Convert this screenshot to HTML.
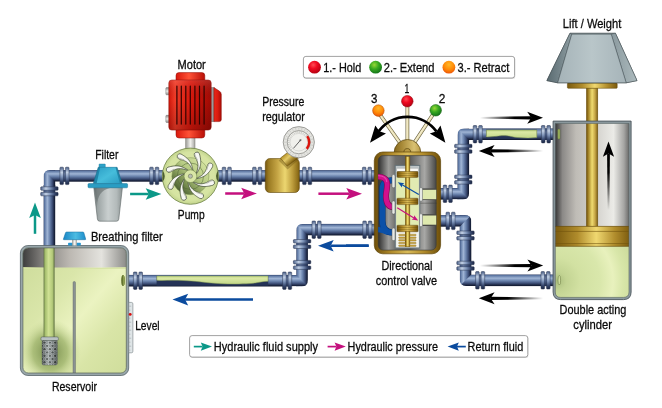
<!DOCTYPE html>
<html><head><meta charset="utf-8"><title>Hydraulic system</title>
<style>
html,body{margin:0;padding:0;background:#fff;}
svg{display:block;}
text{font-family:"Liberation Sans",sans-serif;fill:#0a0a0a;stroke:#0a0a0a;stroke-width:0.3px;}
</style></head>
<body>
<svg width="662" height="408" viewBox="0 0 662 408">
<defs>

<linearGradient id="pH" x1="0" y1="0" x2="0" y2="1">
 <stop offset="0" stop-color="#2c3b62"/><stop offset="0.08" stop-color="#5b75a1"/><stop offset="0.32" stop-color="#a0b5d5"/>
 <stop offset="0.54" stop-color="#6a83ad"/><stop offset="0.76" stop-color="#3b4c74"/><stop offset="0.91" stop-color="#1b2540"/><stop offset="1" stop-color="#10172c"/>
</linearGradient>
<linearGradient id="pV" x1="0" y1="0" x2="1" y2="0">
 <stop offset="0" stop-color="#2c3b62"/><stop offset="0.08" stop-color="#5b75a1"/><stop offset="0.32" stop-color="#a0b5d5"/>
 <stop offset="0.54" stop-color="#6a83ad"/><stop offset="0.76" stop-color="#3b4c74"/><stop offset="0.91" stop-color="#1b2540"/><stop offset="1" stop-color="#10172c"/>
</linearGradient>
<linearGradient id="fH" x1="0" y1="0" x2="0" y2="1">
 <stop offset="0" stop-color="#4b6088"/><stop offset="0.3" stop-color="#c2d0e4"/><stop offset="0.55" stop-color="#7f95ba"/><stop offset="0.8" stop-color="#36476d"/><stop offset="1" stop-color="#1c2744"/>
</linearGradient>
<linearGradient id="fV" x1="0" y1="0" x2="1" y2="0">
 <stop offset="0" stop-color="#4b6088"/><stop offset="0.3" stop-color="#c2d0e4"/><stop offset="0.55" stop-color="#7f95ba"/><stop offset="0.8" stop-color="#36476d"/><stop offset="1" stop-color="#1c2744"/>
</linearGradient>
<clipPath id="ec1"><path d="M50.1,170.1 H61.2 V187.7 H43.6 V176.6 Q43.6,170.1 50.1,170.1Z"/></clipPath><clipPath id="ec1h"><polygon points="43.6,170.1 61.2,170.1 61.2,181.7 55.2,181.7"/></clipPath><clipPath id="ec2"><path d="M302.8,223.9 H313.90000000000003 V241.5 H296.3 V230.4 Q296.3,223.9 302.8,223.9Z"/></clipPath><clipPath id="ec2h"><polygon points="296.3,223.9 313.90000000000003,223.9 313.90000000000003,235.5 307.90000000000003,235.5"/></clipPath><clipPath id="ec3"><path d="M301.4,286.5 H290.29999999999995 V268.9 H307.9 V280.0 Q307.9,286.5 301.4,286.5Z"/></clipPath><clipPath id="ec3h"><polygon points="307.9,286.5 290.29999999999995,286.5 290.29999999999995,274.9 296.29999999999995,274.9"/></clipPath><clipPath id="ec4"><path d="M462.6,199.6 H451.5 V182.0 H469.1 V193.1 Q469.1,199.6 462.6,199.6Z"/></clipPath><clipPath id="ec4h"><polygon points="469.1,199.6 451.5,199.6 451.5,188.0 457.5,188.0"/></clipPath><clipPath id="ec5"><path d="M464.0,128.4 H475.1 V146.0 H457.5 V134.9 Q457.5,128.4 464.0,128.4Z"/></clipPath><clipPath id="ec5h"><polygon points="457.5,128.4 475.1,128.4 475.1,140.0 469.1,140.0"/></clipPath><clipPath id="ec6"><path d="M464.8,215.1 H453.7 V232.7 H471.3 V221.6 Q471.3,215.1 464.8,215.1Z"/></clipPath><clipPath id="ec6h"><polygon points="471.3,215.1 453.7,215.1 453.7,226.7 459.7,226.7"/></clipPath><clipPath id="ec7"><path d="M466.2,286.1 H477.3 V268.5 H459.7 V279.6 Q459.7,286.1 466.2,286.1Z"/></clipPath><clipPath id="ec7h"><polygon points="459.7,286.1 477.3,286.1 477.3,274.5 471.3,274.5"/></clipPath><linearGradient id="gfl" x1="0" y1="0" x2="0" y2="1"><stop offset="0" stop-color="#b5cd7a"/><stop offset="0.25" stop-color="#dbe9a5"/><stop offset="1" stop-color="#c3d889"/></linearGradient>
<linearGradient id="rTop" x1="0" y1="0" x2="1" y2="0"><stop offset="0" stop-color="#3a3a3a"/><stop offset="0.18" stop-color="#7d7b78"/><stop offset="0.45" stop-color="#bcb8b2"/><stop offset="0.75" stop-color="#e4e3de"/><stop offset="1" stop-color="#868683"/></linearGradient>
<linearGradient id="rFl" x1="0" y1="0" x2="1" y2="1"><stop offset="0" stop-color="#cbda98"/><stop offset="0.35" stop-color="#dae6aa"/><stop offset="0.55" stop-color="#ebf3c1"/><stop offset="0.75" stop-color="#d9e5a7"/><stop offset="1" stop-color="#cfdd9b"/></linearGradient>
<radialGradient id="rHalo" cx="0.5" cy="0.5" r="0.5"><stop offset="0" stop-color="#6f8546" stop-opacity="1"/><stop offset="0.55" stop-color="#93aa60" stop-opacity="0.7"/><stop offset="1" stop-color="#c5d692" stop-opacity="0"/></radialGradient>
<linearGradient id="sPipe" x1="0" y1="0" x2="1" y2="0"><stop offset="0" stop-color="#5e7040"/><stop offset="0.14" stop-color="#a4bd6c"/><stop offset="0.45" stop-color="#cfe193"/><stop offset="0.8" stop-color="#b4ca7a"/><stop offset="1" stop-color="#5e7040"/></linearGradient>
<clipPath id="rIn"><rect x="22.9" y="247.9" width="103.4" height="125.1" rx="5.5"/></clipPath>
<pattern id="holes" x="42.2" y="340.9" width="5.3" height="6.54" patternUnits="userSpaceOnUse"><rect width="5.3" height="6.54" fill="#8d9797"/><circle cx="1.3" cy="1.6" r="1.35" fill="#cfd5d5"/><circle cx="1.3" cy="1.6" r="0.85" fill="#39423f"/><circle cx="3.95" cy="4.87" r="1.35" fill="#cfd5d5"/><circle cx="3.95" cy="4.87" r="0.85" fill="#39423f"/></pattern>
<linearGradient id="strSh" x1="0" y1="0" x2="1" y2="0"><stop offset="0" stop-color="#000" stop-opacity="0.35"/><stop offset="0.4" stop-color="#fff" stop-opacity="0.25"/><stop offset="1" stop-color="#000" stop-opacity="0.35"/></linearGradient>
<clipPath id="strC"><rect x="42.2" y="340.6" width="15" height="24.3" rx="1.4"/></clipPath><linearGradient id="bfC" x1="0" y1="0" x2="1" y2="0"><stop offset="0" stop-color="#1a86c6"/><stop offset="0.55" stop-color="#4dbce2"/><stop offset="1" stop-color="#1c8ccb"/></linearGradient><linearGradient id="stem" x1="0" y1="0" x2="1" y2="0"><stop offset="0" stop-color="#a8a8a4"/><stop offset="0.5" stop-color="#f4f4f0"/><stop offset="1" stop-color="#b8b8b4"/></linearGradient>
<linearGradient id="cup" x1="0" y1="0" x2="1" y2="0"><stop offset="0" stop-color="#6e7677"/><stop offset="0.12" stop-color="#9aa2a2"/><stop offset="0.5" stop-color="#c9cfcf"/><stop offset="0.8" stop-color="#b3baba"/><stop offset="1" stop-color="#8a9292"/></linearGradient>
<linearGradient id="flt" x1="0" y1="0" x2="1" y2="1"><stop offset="0" stop-color="#2c9fc6"/><stop offset="0.5" stop-color="#46bddb"/><stop offset="1" stop-color="#2b9cc2"/></linearGradient>

<linearGradient id="mot" x1="0" y1="0" x2="1" y2="0"><stop offset="0" stop-color="#d0160a"/><stop offset="0.15" stop-color="#f23c28"/><stop offset="0.5" stop-color="#dc180c"/><stop offset="1" stop-color="#a00a04"/></linearGradient><linearGradient id="motV" x1="0" y1="0" x2="0" y2="1"><stop offset="0" stop-color="#fff" stop-opacity="0.12"/><stop offset="0.4" stop-color="#000" stop-opacity="0"/><stop offset="1" stop-color="#000" stop-opacity="0.2"/></linearGradient>
<linearGradient id="motc" x1="0" y1="0" x2="1" y2="0"><stop offset="0" stop-color="#d8180c"/><stop offset="0.45" stop-color="#ff5236"/><stop offset="1" stop-color="#b80e06"/></linearGradient>
<linearGradient id="motk" x1="0" y1="0" x2="1" y2="0"><stop offset="0" stop-color="#e8281a"/><stop offset="0.5" stop-color="#dc1c10"/><stop offset="1" stop-color="#a80c06"/></linearGradient>
<linearGradient id="bolt" x1="0" y1="0" x2="0" y2="1"><stop offset="0" stop-color="#8a8a88"/><stop offset="0.5" stop-color="#ecece8"/><stop offset="1" stop-color="#8a8a88"/></linearGradient>
<linearGradient id="shaft" x1="0" y1="0" x2="1" y2="0"><stop offset="0" stop-color="#9a9a96"/><stop offset="0.5" stop-color="#f2f2ee"/><stop offset="1" stop-color="#a6a6a2"/></linearGradient>

<radialGradient id="pmpO" cx="0.5" cy="0.5" r="0.5"><stop offset="0" stop-color="#dbe8a8"/><stop offset="0.85" stop-color="#d6e4a2"/><stop offset="1" stop-color="#c2d48c"/></radialGradient>
<linearGradient id="pmpI" x1="0.85" y1="0.12" x2="0.15" y2="0.88"><stop offset="0" stop-color="#d2e19e"/><stop offset="0.4" stop-color="#b7cb84"/><stop offset="0.72" stop-color="#7b9152"/><stop offset="1" stop-color="#4a5e30"/></linearGradient>

<linearGradient id="gold" x1="0" y1="0" x2="1" y2="0"><stop offset="0" stop-color="#76560e"/><stop offset="0.1" stop-color="#9a7a22"/><stop offset="0.35" stop-color="#c4a444"/><stop offset="0.58" stop-color="#ecd670"/><stop offset="0.8" stop-color="#bc9c3c"/><stop offset="1" stop-color="#826210"/></linearGradient>
<linearGradient id="goldV" x1="0" y1="0" x2="0" y2="1"><stop offset="0" stop-color="#8c6a14"/><stop offset="0.4" stop-color="#e6cb68"/><stop offset="1" stop-color="#8c6a14"/></linearGradient>
<linearGradient id="stemG" gradientUnits="userSpaceOnUse" x1="285.2" y1="154.3" x2="292.6" y2="162"><stop offset="0" stop-color="#b8962e"/><stop offset="0.4" stop-color="#e4ca68"/><stop offset="1" stop-color="#80600f"/></linearGradient>
<radialGradient id="gface" cx="0.5" cy="0.5" r="0.5"><stop offset="0" stop-color="#ffffff"/><stop offset="0.8" stop-color="#f2f2f0"/><stop offset="1" stop-color="#d8d8d4"/></radialGradient>

<linearGradient id="vgrey" x1="0" y1="0" x2="1" y2="0"><stop offset="0" stop-color="#2e2e2e"/><stop offset="0.18" stop-color="#9c9c9a"/><stop offset="0.3" stop-color="#6e6e6c"/><stop offset="0.55" stop-color="#5c5c5a"/><stop offset="0.8" stop-color="#a8a8a6"/><stop offset="1" stop-color="#484846"/></linearGradient>
<linearGradient id="vgold" x1="0" y1="0" x2="1" y2="0"><stop offset="0" stop-color="#6e4f0a"/><stop offset="0.25" stop-color="#b08a2a"/><stop offset="0.5" stop-color="#d9bb58"/><stop offset="0.75" stop-color="#b08a2a"/><stop offset="1" stop-color="#6e4f0a"/></linearGradient>
<linearGradient id="domeG" x1="0" y1="0" x2="1" y2="0"><stop offset="0" stop-color="#86681c"/><stop offset="0.3" stop-color="#a88a38"/><stop offset="0.75" stop-color="#d9c172"/><stop offset="1" stop-color="#b89a48"/></linearGradient>
<linearGradient id="rod" x1="0" y1="0" x2="1" y2="0"><stop offset="0" stop-color="#6a4c0c"/><stop offset="0.14" stop-color="#9a781e"/><stop offset="0.5" stop-color="#f0dc70"/><stop offset="0.76" stop-color="#c6a646"/><stop offset="1" stop-color="#7a5c14"/></linearGradient>
<linearGradient id="lever" x1="0" y1="0" x2="1" y2="0"><stop offset="0" stop-color="#cfc49a"/><stop offset="0.5" stop-color="#f4ecc8"/><stop offset="1" stop-color="#bfb488"/></linearGradient>
<radialGradient id="ballR" cx="0.4" cy="0.32" r="0.75"><stop offset="0" stop-color="#ff4c54"/><stop offset="0.4" stop-color="#f00a20"/><stop offset="1" stop-color="#aa0010"/></radialGradient>
<radialGradient id="ballG" cx="0.4" cy="0.32" r="0.75"><stop offset="0" stop-color="#98d838"/><stop offset="0.45" stop-color="#38a820"/><stop offset="1" stop-color="#0c6a18"/></radialGradient>
<radialGradient id="ballO" cx="0.5" cy="0.3" r="0.8"><stop offset="0" stop-color="#ffb828"/><stop offset="0.5" stop-color="#ff8a08"/><stop offset="1" stop-color="#e64408"/></radialGradient>
<clipPath id="vIn"><rect x="378.2" y="155.6" width="58" height="94.5" rx="5"/></clipPath>

<linearGradient id="cgrey" x1="0" y1="0" x2="1" y2="0"><stop offset="0" stop-color="#333333"/><stop offset="0.1" stop-color="#8b8987"/><stop offset="0.28" stop-color="#bfbcb6"/><stop offset="0.5" stop-color="#cfcdc8"/><stop offset="0.78" stop-color="#ebebe7"/><stop offset="0.92" stop-color="#a5a5a3"/><stop offset="1" stop-color="#5f5f5e"/></linearGradient>
<radialGradient id="cfl" gradientUnits="userSpaceOnUse" cx="557" cy="281" r="78"><stop offset="0" stop-color="#a9bd7c"/><stop offset="0.12" stop-color="#c3d493"/><stop offset="0.3" stop-color="#d2e1a2"/><stop offset="0.55" stop-color="#d9e7ab"/><stop offset="0.72" stop-color="#e8f1bd"/><stop offset="0.85" stop-color="#d8e6a9"/><stop offset="1" stop-color="#cddc9c"/></radialGradient>
<linearGradient id="pist" x1="0" y1="0" x2="1" y2="0"><stop offset="0" stop-color="#7a5a0e"/><stop offset="0.3" stop-color="#b08c2c"/><stop offset="0.55" stop-color="#f0d870"/><stop offset="0.8" stop-color="#b08c2c"/><stop offset="1" stop-color="#7a5a0e"/></linearGradient>
<linearGradient id="wF" x1="0" y1="0" x2="1" y2="0"><stop offset="0" stop-color="#a5b3b8"/><stop offset="0.5" stop-color="#b9c6c9"/><stop offset="1" stop-color="#a6b4b9"/></linearGradient><linearGradient id="wL" x1="0" y1="0" x2="1" y2="0"><stop offset="0" stop-color="#5a6b71"/><stop offset="1" stop-color="#8d9ca1"/></linearGradient><linearGradient id="wR" x1="0" y1="0" x2="1" y2="0"><stop offset="0" stop-color="#8a999e"/><stop offset="1" stop-color="#acbabd"/></linearGradient>
<clipPath id="cIn"><path d="M555.3,123.4 H629 V292 Q629,297.4 623.6,297.4 H560.7 Q555.3,297.4 555.3,292 Z"/></clipPath>
<linearGradient id="fa1" gradientUnits="userSpaceOnUse" x1="608.5" y1="210" x2="608.5" y2="141.4"><stop offset="0" stop-color="#000" stop-opacity="0"/><stop offset="0.55" stop-color="#000" stop-opacity="1"/><stop offset="1" stop-color="#000"/></linearGradient><linearGradient id="fa2" gradientUnits="userSpaceOnUse" x1="480" y1="117.8" x2="543" y2="117.8"><stop offset="0" stop-color="#000" stop-opacity="0"/><stop offset="0.55" stop-color="#000" stop-opacity="1"/><stop offset="1" stop-color="#000"/></linearGradient><linearGradient id="fa3" gradientUnits="userSpaceOnUse" x1="543" y1="150.9" x2="478.8" y2="150.9"><stop offset="0" stop-color="#000" stop-opacity="0"/><stop offset="0.55" stop-color="#000" stop-opacity="1"/><stop offset="1" stop-color="#000"/></linearGradient><linearGradient id="fa4" gradientUnits="userSpaceOnUse" x1="480" y1="265.6" x2="543.2" y2="265.6"><stop offset="0" stop-color="#000" stop-opacity="0"/><stop offset="0.55" stop-color="#000" stop-opacity="1"/><stop offset="1" stop-color="#000"/></linearGradient><linearGradient id="fa5" gradientUnits="userSpaceOnUse" x1="543" y1="298.3" x2="478.8" y2="298.3"><stop offset="0" stop-color="#000" stop-opacity="0"/><stop offset="0.55" stop-color="#000" stop-opacity="1"/><stop offset="1" stop-color="#000"/></linearGradient><filter id="idf" x="0" y="0" width="662" height="408" filterUnits="userSpaceOnUse"><feOffset dx="0" dy="0"/></filter>
</defs>
<rect width="662" height="408" fill="#fff"/>
<rect x="43.6" y="185" width="11.6" height="62.00" fill="url(#pV)"/>
<g clip-path="url(#ec1)">
<rect x="43.6" y="170.1" width="11.6" height="17.6" fill="url(#pV)"/>
<g clip-path="url(#ec1h)"><rect x="43.6" y="170.1" width="17.6" height="11.6" fill="url(#pH)"/></g>
</g>
<rect x="60" y="170.1" width="316.00" height="11.6" fill="url(#pH)"/>
<rect x="40.70" y="186.80" width="17.40" height="3.5" rx="0.8" fill="url(#fV)" stroke="#26334f" stroke-width="0.5"/>
<rect x="40.70" y="192.30" width="17.40" height="3.5" rx="0.8" fill="url(#fV)" stroke="#26334f" stroke-width="0.5"/>
<rect x="43.60" y="190.30" width="11.6" height="2.0" fill="#34466b" opacity="0.55"/>
<rect x="59.90" y="167.20" width="3.6" height="17.40" rx="0.8" fill="url(#fH)" stroke="#26334f" stroke-width="0.5"/>
<rect x="65.40" y="167.20" width="3.6" height="17.40" rx="0.8" fill="url(#fH)" stroke="#26334f" stroke-width="0.5"/>
<rect x="63.50" y="170.10" width="1.9" height="11.6" fill="#34466b" opacity="0.55"/>
<rect x="149.70" y="167.20" width="3.6" height="17.40" rx="0.8" fill="url(#fH)" stroke="#26334f" stroke-width="0.5"/>
<rect x="155.20" y="167.20" width="3.6" height="17.40" rx="0.8" fill="url(#fH)" stroke="#26334f" stroke-width="0.5"/>
<rect x="153.30" y="170.10" width="1.9" height="11.6" fill="#34466b" opacity="0.55"/>
<rect x="222.20" y="167.20" width="3.6" height="17.40" rx="0.8" fill="url(#fH)" stroke="#26334f" stroke-width="0.5"/>
<rect x="227.70" y="167.20" width="3.6" height="17.40" rx="0.8" fill="url(#fH)" stroke="#26334f" stroke-width="0.5"/>
<rect x="225.80" y="170.10" width="1.9" height="11.6" fill="#34466b" opacity="0.55"/>
<rect x="252.60" y="167.20" width="3.6" height="17.40" rx="0.8" fill="url(#fH)" stroke="#26334f" stroke-width="0.5"/>
<rect x="258.10" y="167.20" width="3.6" height="17.40" rx="0.8" fill="url(#fH)" stroke="#26334f" stroke-width="0.5"/>
<rect x="256.20" y="170.10" width="1.9" height="11.6" fill="#34466b" opacity="0.55"/>
<rect x="302.60" y="167.20" width="3.6" height="17.40" rx="0.8" fill="url(#fH)" stroke="#26334f" stroke-width="0.5"/>
<rect x="308.10" y="167.20" width="3.6" height="17.40" rx="0.8" fill="url(#fH)" stroke="#26334f" stroke-width="0.5"/>
<rect x="306.20" y="170.10" width="1.9" height="11.6" fill="#34466b" opacity="0.55"/>
<rect x="362.40" y="167.20" width="3.6" height="17.40" rx="0.8" fill="url(#fH)" stroke="#26334f" stroke-width="0.5"/>
<rect x="367.90" y="167.20" width="3.6" height="17.40" rx="0.8" fill="url(#fH)" stroke="#26334f" stroke-width="0.5"/>
<rect x="366.00" y="170.10" width="1.9" height="11.6" fill="#34466b" opacity="0.55"/>
<rect x="313" y="223.9" width="63.00" height="11.6" fill="url(#pH)"/>
<g clip-path="url(#ec2)">
<rect x="296.3" y="223.9" width="11.6" height="17.6" fill="url(#pV)"/>
<g clip-path="url(#ec2h)"><rect x="296.3" y="223.9" width="17.6" height="11.6" fill="url(#pH)"/></g>
</g>
<rect x="296.3" y="240" width="11.6" height="30.00" fill="url(#pV)"/>
<g clip-path="url(#ec3)">
<rect x="296.29999999999995" y="268.9" width="11.6" height="17.6" fill="url(#pV)"/>
<g clip-path="url(#ec3h)"><rect x="290.29999999999995" y="274.9" width="17.6" height="11.6" fill="url(#pH)"/></g>
</g>
<rect x="128" y="274.9" width="163.00" height="11.6" fill="url(#pH)"/>
<rect x="362.80" y="221.00" width="3.6" height="17.40" rx="0.8" fill="url(#fH)" stroke="#26334f" stroke-width="0.5"/>
<rect x="368.30" y="221.00" width="3.6" height="17.40" rx="0.8" fill="url(#fH)" stroke="#26334f" stroke-width="0.5"/>
<rect x="366.40" y="223.90" width="1.9" height="11.6" fill="#34466b" opacity="0.55"/>
<rect x="312.00" y="221.00" width="3.6" height="17.40" rx="0.8" fill="url(#fH)" stroke="#26334f" stroke-width="0.5"/>
<rect x="317.50" y="221.00" width="3.6" height="17.40" rx="0.8" fill="url(#fH)" stroke="#26334f" stroke-width="0.5"/>
<rect x="315.60" y="223.90" width="1.9" height="11.6" fill="#34466b" opacity="0.55"/>
<rect x="293.40" y="239.50" width="17.40" height="3.5" rx="0.8" fill="url(#fV)" stroke="#26334f" stroke-width="0.5"/>
<rect x="293.40" y="245.00" width="17.40" height="3.5" rx="0.8" fill="url(#fV)" stroke="#26334f" stroke-width="0.5"/>
<rect x="296.30" y="243.00" width="11.6" height="2.0" fill="#34466b" opacity="0.55"/>
<rect x="293.40" y="260.40" width="17.40" height="3.5" rx="0.8" fill="url(#fV)" stroke="#26334f" stroke-width="0.5"/>
<rect x="293.40" y="265.90" width="17.40" height="3.5" rx="0.8" fill="url(#fV)" stroke="#26334f" stroke-width="0.5"/>
<rect x="296.30" y="263.90" width="11.6" height="2.0" fill="#34466b" opacity="0.55"/>
<rect x="282.60" y="272.00" width="3.6" height="17.40" rx="0.8" fill="url(#fH)" stroke="#26334f" stroke-width="0.5"/>
<rect x="288.10" y="272.00" width="3.6" height="17.40" rx="0.8" fill="url(#fH)" stroke="#26334f" stroke-width="0.5"/>
<rect x="286.20" y="274.90" width="1.9" height="11.6" fill="#34466b" opacity="0.55"/>
<rect x="133.40" y="272.00" width="3.6" height="17.40" rx="0.8" fill="url(#fH)" stroke="#26334f" stroke-width="0.5"/>
<rect x="138.90" y="272.00" width="3.6" height="17.40" rx="0.8" fill="url(#fH)" stroke="#26334f" stroke-width="0.5"/>
<rect x="137.00" y="274.90" width="1.9" height="11.6" fill="#34466b" opacity="0.55"/>
<rect x="438" y="188.0" width="14.00" height="11.6" fill="url(#pH)"/>
<g clip-path="url(#ec4)">
<rect x="457.5" y="182.0" width="11.6" height="17.6" fill="url(#pV)"/>
<g clip-path="url(#ec4h)"><rect x="451.5" y="188.0" width="17.6" height="11.6" fill="url(#pH)"/></g>
</g>
<rect x="457.5" y="146" width="11.6" height="36.00" fill="url(#pV)"/>
<g clip-path="url(#ec5)">
<rect x="457.5" y="128.4" width="11.6" height="17.6" fill="url(#pV)"/>
<g clip-path="url(#ec5h)"><rect x="457.5" y="128.4" width="17.6" height="11.6" fill="url(#pH)"/></g>
</g>
<rect x="474" y="128.4" width="81.00" height="11.6" fill="url(#pH)"/>
<rect x="443.20" y="185.10" width="3.6" height="17.40" rx="0.8" fill="url(#fH)" stroke="#26334f" stroke-width="0.5"/>
<rect x="448.70" y="185.10" width="3.6" height="17.40" rx="0.8" fill="url(#fH)" stroke="#26334f" stroke-width="0.5"/>
<rect x="446.80" y="188.00" width="1.9" height="11.6" fill="#34466b" opacity="0.55"/>
<rect x="454.60" y="175.10" width="17.40" height="3.5" rx="0.8" fill="url(#fV)" stroke="#26334f" stroke-width="0.5"/>
<rect x="454.60" y="180.60" width="17.40" height="3.5" rx="0.8" fill="url(#fV)" stroke="#26334f" stroke-width="0.5"/>
<rect x="457.50" y="178.60" width="11.6" height="2.0" fill="#34466b" opacity="0.55"/>
<rect x="454.60" y="144.30" width="17.40" height="3.5" rx="0.8" fill="url(#fV)" stroke="#26334f" stroke-width="0.5"/>
<rect x="454.60" y="149.80" width="17.40" height="3.5" rx="0.8" fill="url(#fV)" stroke="#26334f" stroke-width="0.5"/>
<rect x="457.50" y="147.80" width="11.6" height="2.0" fill="#34466b" opacity="0.55"/>
<rect x="473.20" y="125.50" width="3.6" height="17.40" rx="0.8" fill="url(#fH)" stroke="#26334f" stroke-width="0.5"/>
<rect x="478.70" y="125.50" width="3.6" height="17.40" rx="0.8" fill="url(#fH)" stroke="#26334f" stroke-width="0.5"/>
<rect x="476.80" y="128.40" width="1.9" height="11.6" fill="#34466b" opacity="0.55"/>
<rect x="541.40" y="125.50" width="3.6" height="17.40" rx="0.8" fill="url(#fH)" stroke="#26334f" stroke-width="0.5"/>
<rect x="546.90" y="125.50" width="3.6" height="17.40" rx="0.8" fill="url(#fH)" stroke="#26334f" stroke-width="0.5"/>
<rect x="545.00" y="128.40" width="1.9" height="11.6" fill="#34466b" opacity="0.55"/>
<rect x="438" y="215.1" width="16.00" height="11.6" fill="url(#pH)"/>
<g clip-path="url(#ec6)">
<rect x="459.7" y="215.1" width="11.6" height="17.6" fill="url(#pV)"/>
<g clip-path="url(#ec6h)"><rect x="453.7" y="215.1" width="17.6" height="11.6" fill="url(#pH)"/></g>
</g>
<rect x="459.7" y="232" width="11.6" height="37.00" fill="url(#pV)"/>
<g clip-path="url(#ec7)">
<rect x="459.7" y="268.5" width="11.6" height="17.6" fill="url(#pV)"/>
<g clip-path="url(#ec7h)"><rect x="459.7" y="274.5" width="17.6" height="11.6" fill="url(#pH)"/></g>
</g>
<rect x="477" y="274.5" width="78.00" height="11.6" fill="url(#pH)"/>
<rect x="446.00" y="212.20" width="3.6" height="17.40" rx="0.8" fill="url(#fH)" stroke="#26334f" stroke-width="0.5"/>
<rect x="451.50" y="212.20" width="3.6" height="17.40" rx="0.8" fill="url(#fH)" stroke="#26334f" stroke-width="0.5"/>
<rect x="449.60" y="215.10" width="1.9" height="11.6" fill="#34466b" opacity="0.55"/>
<rect x="456.80" y="231.00" width="17.40" height="3.5" rx="0.8" fill="url(#fV)" stroke="#26334f" stroke-width="0.5"/>
<rect x="456.80" y="236.50" width="17.40" height="3.5" rx="0.8" fill="url(#fV)" stroke="#26334f" stroke-width="0.5"/>
<rect x="459.70" y="234.50" width="11.6" height="2.0" fill="#34466b" opacity="0.55"/>
<rect x="456.80" y="261.20" width="17.40" height="3.5" rx="0.8" fill="url(#fV)" stroke="#26334f" stroke-width="0.5"/>
<rect x="456.80" y="266.70" width="17.40" height="3.5" rx="0.8" fill="url(#fV)" stroke="#26334f" stroke-width="0.5"/>
<rect x="459.70" y="264.70" width="11.6" height="2.0" fill="#34466b" opacity="0.55"/>
<rect x="475.60" y="271.60" width="3.6" height="17.40" rx="0.8" fill="url(#fH)" stroke="#26334f" stroke-width="0.5"/>
<rect x="481.10" y="271.60" width="3.6" height="17.40" rx="0.8" fill="url(#fH)" stroke="#26334f" stroke-width="0.5"/>
<rect x="479.20" y="274.50" width="1.9" height="11.6" fill="#34466b" opacity="0.55"/>
<rect x="541.00" y="271.60" width="3.6" height="17.40" rx="0.8" fill="url(#fH)" stroke="#26334f" stroke-width="0.5"/>
<rect x="546.50" y="271.60" width="3.6" height="17.40" rx="0.8" fill="url(#fH)" stroke="#26334f" stroke-width="0.5"/>
<rect x="544.60" y="274.50" width="1.9" height="11.6" fill="#34466b" opacity="0.55"/>
<rect x="156.6" y="276" width="111.6" height="9.6" fill="#243256"/>
<path d="M156.8,276 H268 V281.2 C262,281.2 258,283 250,283.6 C238,284.3 222,284.2 208,282.7 C196,281.4 186,280.2 172,280.3 C166,280.4 160,280.7 156.8,280.2 Z" fill="url(#gfl)" stroke="#8a9f58" stroke-width="0.5"/>
<rect x="486.2" y="129.6" width="50.6" height="9.2" fill="#243256"/>
<path d="M486.4,130 H536.8 V137.6 C530,138.2 524,138 518,137.6 C512,137.2 510,135.6 504,135.6 C498,135.6 496,136.8 486.4,137 Z" fill="url(#gfl)" stroke="#8a9f58" stroke-width="0.5"/>
<rect x="20.4" y="245.5" width="108.3" height="130" rx="7.5" fill="#98a6aa" stroke="#58646a" stroke-width="0.8"/>
<g clip-path="url(#rIn)">
<rect x="22" y="247" width="106" height="127" fill="url(#rFl)"/>
<ellipse cx="50" cy="352" rx="31" ry="33" fill="url(#rHalo)"/>
<rect x="22" y="247" width="106" height="20.5" fill="url(#rTop)"/>
<path d="M22,267 Q75,269.5 128,267 V269 H22Z" fill="#d6e3a4" opacity="0.9"/>
<rect x="43.6" y="247" width="11" height="91" fill="url(#sPipe)"/>
<rect x="40.9" y="336.9" width="17.5" height="3.7" rx="1.4" fill="#b9c1c1" stroke="#4d5555" stroke-width="0.5"/>
<rect x="42.2" y="340.6" width="15" height="24.3" rx="1.4" fill="#7f8989" stroke="#4d5555" stroke-width="0.5"/>
<g clip-path="url(#strC)">
<circle cx="44.55" cy="342.60" r="1.8" fill="#c3caca"/><circle cx="44.55" cy="342.60" r="1.2" fill="#39423f"/>
<circle cx="49.85" cy="342.60" r="1.8" fill="#c3caca"/><circle cx="49.85" cy="342.60" r="1.2" fill="#39423f"/>
<circle cx="55.15" cy="342.60" r="1.8" fill="#c3caca"/><circle cx="55.15" cy="342.60" r="1.2" fill="#39423f"/>
<circle cx="60.45" cy="342.60" r="1.8" fill="#c3caca"/><circle cx="60.45" cy="342.60" r="1.2" fill="#39423f"/>
<circle cx="41.90" cy="345.87" r="1.8" fill="#c3caca"/><circle cx="41.90" cy="345.87" r="1.2" fill="#39423f"/>
<circle cx="47.20" cy="345.87" r="1.8" fill="#c3caca"/><circle cx="47.20" cy="345.87" r="1.2" fill="#39423f"/>
<circle cx="52.50" cy="345.87" r="1.8" fill="#c3caca"/><circle cx="52.50" cy="345.87" r="1.2" fill="#39423f"/>
<circle cx="57.80" cy="345.87" r="1.8" fill="#c3caca"/><circle cx="57.80" cy="345.87" r="1.2" fill="#39423f"/>
<circle cx="44.55" cy="349.14" r="1.8" fill="#c3caca"/><circle cx="44.55" cy="349.14" r="1.2" fill="#39423f"/>
<circle cx="49.85" cy="349.14" r="1.8" fill="#c3caca"/><circle cx="49.85" cy="349.14" r="1.2" fill="#39423f"/>
<circle cx="55.15" cy="349.14" r="1.8" fill="#c3caca"/><circle cx="55.15" cy="349.14" r="1.2" fill="#39423f"/>
<circle cx="60.45" cy="349.14" r="1.8" fill="#c3caca"/><circle cx="60.45" cy="349.14" r="1.2" fill="#39423f"/>
<circle cx="41.90" cy="352.41" r="1.8" fill="#c3caca"/><circle cx="41.90" cy="352.41" r="1.2" fill="#39423f"/>
<circle cx="47.20" cy="352.41" r="1.8" fill="#c3caca"/><circle cx="47.20" cy="352.41" r="1.2" fill="#39423f"/>
<circle cx="52.50" cy="352.41" r="1.8" fill="#c3caca"/><circle cx="52.50" cy="352.41" r="1.2" fill="#39423f"/>
<circle cx="57.80" cy="352.41" r="1.8" fill="#c3caca"/><circle cx="57.80" cy="352.41" r="1.2" fill="#39423f"/>
<circle cx="44.55" cy="355.68" r="1.8" fill="#c3caca"/><circle cx="44.55" cy="355.68" r="1.2" fill="#39423f"/>
<circle cx="49.85" cy="355.68" r="1.8" fill="#c3caca"/><circle cx="49.85" cy="355.68" r="1.2" fill="#39423f"/>
<circle cx="55.15" cy="355.68" r="1.8" fill="#c3caca"/><circle cx="55.15" cy="355.68" r="1.2" fill="#39423f"/>
<circle cx="60.45" cy="355.68" r="1.8" fill="#c3caca"/><circle cx="60.45" cy="355.68" r="1.2" fill="#39423f"/>
<circle cx="41.90" cy="358.95" r="1.8" fill="#c3caca"/><circle cx="41.90" cy="358.95" r="1.2" fill="#39423f"/>
<circle cx="47.20" cy="358.95" r="1.8" fill="#c3caca"/><circle cx="47.20" cy="358.95" r="1.2" fill="#39423f"/>
<circle cx="52.50" cy="358.95" r="1.8" fill="#c3caca"/><circle cx="52.50" cy="358.95" r="1.2" fill="#39423f"/>
<circle cx="57.80" cy="358.95" r="1.8" fill="#c3caca"/><circle cx="57.80" cy="358.95" r="1.2" fill="#39423f"/>
<circle cx="44.55" cy="362.22" r="1.8" fill="#c3caca"/><circle cx="44.55" cy="362.22" r="1.2" fill="#39423f"/>
<circle cx="49.85" cy="362.22" r="1.8" fill="#c3caca"/><circle cx="49.85" cy="362.22" r="1.2" fill="#39423f"/>
<circle cx="55.15" cy="362.22" r="1.8" fill="#c3caca"/><circle cx="55.15" cy="362.22" r="1.2" fill="#39423f"/>
<circle cx="60.45" cy="362.22" r="1.8" fill="#c3caca"/><circle cx="60.45" cy="362.22" r="1.2" fill="#39423f"/>
<circle cx="41.90" cy="365.49" r="1.8" fill="#c3caca"/><circle cx="41.90" cy="365.49" r="1.2" fill="#39423f"/>
<circle cx="47.20" cy="365.49" r="1.8" fill="#c3caca"/><circle cx="47.20" cy="365.49" r="1.2" fill="#39423f"/>
<circle cx="52.50" cy="365.49" r="1.8" fill="#c3caca"/><circle cx="52.50" cy="365.49" r="1.2" fill="#39423f"/>
<circle cx="57.80" cy="365.49" r="1.8" fill="#c3caca"/><circle cx="57.80" cy="365.49" r="1.2" fill="#39423f"/>
</g>
<rect x="42.2" y="340.6" width="15" height="24.3" rx="1.4" fill="url(#strSh)"/>
<rect x="73" y="281.5" width="2.5" height="93" rx="1.2" fill="#8a9292" stroke="#5a6262" stroke-width="0.4"/>
<ellipse cx="123" cy="280.5" rx="1.8" ry="5.5" fill="#63742f"/><path d="M123,275 A1.8,5.5 0 0 1 123,286 Z" fill="#8a9b4c"/>
</g>
<rect x="22.9" y="247.9" width="103.4" height="125.1" rx="5.5" fill="none" stroke="#56625a" stroke-width="0.7"/>
<path d="M128.8,302.4 H131.4 Q132.9,302.4 132.9,303.9 V351.3 Q132.9,352.8 131.4,352.8 H128.8 Z" fill="#dfe5e7" stroke="#737d81" stroke-width="0.6"/>
<line x1="129.2" y1="306.2" x2="131.2" y2="306.2" stroke="#7d878a" stroke-width="0.4"/>
<line x1="129.2" y1="310.2" x2="130.4" y2="310.2" stroke="#7d878a" stroke-width="0.4"/>
<line x1="129.2" y1="314.2" x2="131.2" y2="314.2" stroke="#7d878a" stroke-width="0.4"/>
<line x1="129.2" y1="318.2" x2="130.4" y2="318.2" stroke="#7d878a" stroke-width="0.4"/>
<line x1="129.2" y1="322.2" x2="131.2" y2="322.2" stroke="#7d878a" stroke-width="0.4"/>
<line x1="129.2" y1="326.2" x2="130.4" y2="326.2" stroke="#7d878a" stroke-width="0.4"/>
<line x1="129.2" y1="330.2" x2="131.2" y2="330.2" stroke="#7d878a" stroke-width="0.4"/>
<line x1="129.2" y1="334.2" x2="130.4" y2="334.2" stroke="#7d878a" stroke-width="0.4"/>
<line x1="129.2" y1="338.2" x2="131.2" y2="338.2" stroke="#7d878a" stroke-width="0.4"/>
<line x1="129.2" y1="342.2" x2="130.4" y2="342.2" stroke="#7d878a" stroke-width="0.4"/>
<line x1="129.2" y1="346.2" x2="131.2" y2="346.2" stroke="#7d878a" stroke-width="0.4"/>
<line x1="129.2" y1="350.2" x2="130.4" y2="350.2" stroke="#7d878a" stroke-width="0.4"/>
<circle cx="130.2" cy="314.4" r="1.45" fill="#d81010"/>
<rect x="68.1" y="242.7" width="12.7" height="2.9" rx="0.6" fill="#2595d0"/>
<rect x="72.2" y="239.5" width="4.6" height="6.1" fill="url(#stem)" stroke="#8a8a86" stroke-width="0.3"/>
<path d="M66.6,232 H83 Q83.6,232 83.8,232.6 L85.7,239.1 Q85.8,239.7 85.2,239.7 H63.8 Q63.2,239.7 63.4,239.1 L65.6,232.6 Q65.9,232 66.6,232Z" fill="url(#bfC)" stroke="#176f9f" stroke-width="0.5"/>
<path d="M93.8,187.5 H122.4 L118.8,219 Q118.6,221.2 116.5,221.2 H99.6 Q97.6,221.2 97.4,219 Z" fill="url(#cup)" stroke="#5e6667" stroke-width="0.6"/>
<path d="M94.5,188 H110 C101,190 97.5,196 97,206 Z" fill="#5c6465" opacity="0.55"/>
<rect x="99" y="164" width="6.3" height="3.8" rx="0.5" fill="#2ea3ca" stroke="#1b7395" stroke-width="0.4"/>
<polygon points="98.2,167.3 117.1,167.3 122.1,183.6 93.3,183.6" fill="#1f86aa" stroke="#176886" stroke-width="0.5"/>
<polygon points="100.2,167.6 115.5,167.6 119.9,183.4 96.6,183.4" fill="url(#flt)"/>
<rect x="88" y="183.6" width="39.6" height="4.2" rx="1" fill="#2a9dc3" stroke="#1b7395" stroke-width="0.5"/>
<rect x="185.7" y="137" width="9.3" height="12" fill="url(#shaft)" stroke="#77776f" stroke-width="0.5"/>
<rect x="165.8" y="87.6" width="4" height="7.2" rx="0.8" fill="url(#bolt)" stroke="#666" stroke-width="0.4"/>
<rect x="165.8" y="115.3" width="4" height="7.2" rx="0.8" fill="url(#bolt)" stroke="#666" stroke-width="0.4"/>
<rect x="210.5" y="87.6" width="3.6" height="34" fill="#9a9a9a" stroke="#555" stroke-width="0.4"/>
<path d="M213.9,87.6 L219.3,91 Q221.3,92.3 221.3,94.5 V119.5 Q221.3,121.6 219.3,121.6 H213.9Z" fill="url(#motk)" stroke="#8a0a04" stroke-width="0.5"/>
<path d="M176,80.5 V75.6 Q176,72.6 179,72.6 H201.8 Q204.8,72.6 204.8,75.6 V80.5Z" fill="url(#motc)" stroke="#8a0a04" stroke-width="0.5"/>
<path d="M176,129.5 V135 Q176,138 179,138 H201.8 Q204.8,138 204.8,135 V129.5Z" fill="url(#motc)" stroke="#8a0a04" stroke-width="0.5"/>
<rect x="168.8" y="80" width="42.4" height="50.1" rx="3" fill="url(#mot)" stroke="#8a0a04" stroke-width="0.5"/>
<rect x="168.8" y="80" width="42.4" height="50.1" rx="3" fill="url(#motV)"/>
<rect x="176.30" y="85.5" width="1.2" height="39.2" rx="0.6" fill="#330300"/>
<rect x="180.70" y="85.5" width="1.2" height="39.2" rx="0.6" fill="#330300"/>
<rect x="185.20" y="85.5" width="1.2" height="39.2" rx="0.6" fill="#330300"/>
<rect x="189.70" y="85.5" width="1.2" height="39.2" rx="0.6" fill="#330300"/>
<rect x="194.30" y="85.5" width="1.2" height="39.2" rx="0.6" fill="#330300"/>
<rect x="198.90" y="85.5" width="1.2" height="39.2" rx="0.6" fill="#330300"/>
<rect x="203.50" y="85.5" width="1.2" height="39.2" rx="0.6" fill="#330300"/>
<circle cx="190.4" cy="176.2" r="28.1" fill="url(#pmpO)" stroke="#6f8348" stroke-width="0.8"/>
<circle cx="190.4" cy="176.2" r="18.5" fill="url(#pmpI)" stroke="#7a8f50" stroke-width="0.5"/>
<path d="M162.8,170.79999999999998 Q166.8,176.2 162.8,181.6 Z" fill="#4c5e2e"/>
<path d="M218.0,170.79999999999998 Q214.0,176.2 218.0,181.6 Z" fill="#4c5e2e"/>
<circle cx="190.4" cy="176.2" r="13.2" fill="none" stroke="#4f6336" stroke-width="0.6" opacity="0.85"/>
<path transform="translate(190.4,176.2) rotate(0)" d="M2.70,-5.23 L2.45,-6.48 L2.20,-7.66 L1.92,-8.78 L1.62,-9.84 L1.28,-10.86 L0.91,-11.83 L0.50,-12.76 L0.04,-13.67 L-0.47,-14.54 L-1.05,-15.38 L-1.68,-16.20 L-2.39,-16.99 L-3.16,-17.76 L-4.00,-18.52 L-4.92,-19.26 L-5.91,-20.00 L-6.99,-20.73 L-8.14,-21.46 L-9.39,-22.20 A2.70,2.70 0 1 0 -11.41,-17.20 L-10.15,-16.88 L-8.99,-16.55 L-7.91,-16.21 L-6.93,-15.84 L-6.01,-15.45 L-5.17,-15.04 L-4.39,-14.59 L-3.67,-14.11 L-2.98,-13.59 L-2.34,-13.03 L-1.74,-12.41 L-1.16,-11.74 L-0.60,-11.00 L-0.06,-10.21 L0.46,-9.34 L0.97,-8.41 L1.48,-7.40 L1.99,-6.32 L2.50,-5.17 Z" fill="#f7f7f3" stroke="#3f4a32" stroke-width="0.7" stroke-linejoin="round"/>
<path transform="translate(190.4,176.2) rotate(0)" d="M-12.2,-18.6 C-11.4,-17.6 -9.6,-17.4 -6.6,-16.4" fill="none" stroke="#b4b8ac" stroke-width="1.0" stroke-linecap="round"/>
<path transform="translate(190.4,176.2) rotate(45)" d="M2.70,-5.23 L2.45,-6.48 L2.20,-7.66 L1.92,-8.78 L1.62,-9.84 L1.28,-10.86 L0.91,-11.83 L0.50,-12.76 L0.04,-13.67 L-0.47,-14.54 L-1.05,-15.38 L-1.68,-16.20 L-2.39,-16.99 L-3.16,-17.76 L-4.00,-18.52 L-4.92,-19.26 L-5.91,-20.00 L-6.99,-20.73 L-8.14,-21.46 L-9.39,-22.20 A2.70,2.70 0 1 0 -11.41,-17.20 L-10.15,-16.88 L-8.99,-16.55 L-7.91,-16.21 L-6.93,-15.84 L-6.01,-15.45 L-5.17,-15.04 L-4.39,-14.59 L-3.67,-14.11 L-2.98,-13.59 L-2.34,-13.03 L-1.74,-12.41 L-1.16,-11.74 L-0.60,-11.00 L-0.06,-10.21 L0.46,-9.34 L0.97,-8.41 L1.48,-7.40 L1.99,-6.32 L2.50,-5.17 Z" fill="#f7f7f3" stroke="#3f4a32" stroke-width="0.7" stroke-linejoin="round"/>
<path transform="translate(190.4,176.2) rotate(45)" d="M-12.2,-18.6 C-11.4,-17.6 -9.6,-17.4 -6.6,-16.4" fill="none" stroke="#b4b8ac" stroke-width="1.0" stroke-linecap="round"/>
<path transform="translate(190.4,176.2) rotate(90)" d="M2.70,-5.23 L2.45,-6.48 L2.20,-7.66 L1.92,-8.78 L1.62,-9.84 L1.28,-10.86 L0.91,-11.83 L0.50,-12.76 L0.04,-13.67 L-0.47,-14.54 L-1.05,-15.38 L-1.68,-16.20 L-2.39,-16.99 L-3.16,-17.76 L-4.00,-18.52 L-4.92,-19.26 L-5.91,-20.00 L-6.99,-20.73 L-8.14,-21.46 L-9.39,-22.20 A2.70,2.70 0 1 0 -11.41,-17.20 L-10.15,-16.88 L-8.99,-16.55 L-7.91,-16.21 L-6.93,-15.84 L-6.01,-15.45 L-5.17,-15.04 L-4.39,-14.59 L-3.67,-14.11 L-2.98,-13.59 L-2.34,-13.03 L-1.74,-12.41 L-1.16,-11.74 L-0.60,-11.00 L-0.06,-10.21 L0.46,-9.34 L0.97,-8.41 L1.48,-7.40 L1.99,-6.32 L2.50,-5.17 Z" fill="#f7f7f3" stroke="#3f4a32" stroke-width="0.7" stroke-linejoin="round"/>
<path transform="translate(190.4,176.2) rotate(90)" d="M-12.2,-18.6 C-11.4,-17.6 -9.6,-17.4 -6.6,-16.4" fill="none" stroke="#b4b8ac" stroke-width="1.0" stroke-linecap="round"/>
<path transform="translate(190.4,176.2) rotate(135)" d="M2.70,-5.23 L2.45,-6.48 L2.20,-7.66 L1.92,-8.78 L1.62,-9.84 L1.28,-10.86 L0.91,-11.83 L0.50,-12.76 L0.04,-13.67 L-0.47,-14.54 L-1.05,-15.38 L-1.68,-16.20 L-2.39,-16.99 L-3.16,-17.76 L-4.00,-18.52 L-4.92,-19.26 L-5.91,-20.00 L-6.99,-20.73 L-8.14,-21.46 L-9.39,-22.20 A2.70,2.70 0 1 0 -11.41,-17.20 L-10.15,-16.88 L-8.99,-16.55 L-7.91,-16.21 L-6.93,-15.84 L-6.01,-15.45 L-5.17,-15.04 L-4.39,-14.59 L-3.67,-14.11 L-2.98,-13.59 L-2.34,-13.03 L-1.74,-12.41 L-1.16,-11.74 L-0.60,-11.00 L-0.06,-10.21 L0.46,-9.34 L0.97,-8.41 L1.48,-7.40 L1.99,-6.32 L2.50,-5.17 Z" fill="#f7f7f3" stroke="#3f4a32" stroke-width="0.7" stroke-linejoin="round"/>
<path transform="translate(190.4,176.2) rotate(135)" d="M-12.2,-18.6 C-11.4,-17.6 -9.6,-17.4 -6.6,-16.4" fill="none" stroke="#b4b8ac" stroke-width="1.0" stroke-linecap="round"/>
<path transform="translate(190.4,176.2) rotate(180)" d="M2.70,-5.23 L2.45,-6.48 L2.20,-7.66 L1.92,-8.78 L1.62,-9.84 L1.28,-10.86 L0.91,-11.83 L0.50,-12.76 L0.04,-13.67 L-0.47,-14.54 L-1.05,-15.38 L-1.68,-16.20 L-2.39,-16.99 L-3.16,-17.76 L-4.00,-18.52 L-4.92,-19.26 L-5.91,-20.00 L-6.99,-20.73 L-8.14,-21.46 L-9.39,-22.20 A2.70,2.70 0 1 0 -11.41,-17.20 L-10.15,-16.88 L-8.99,-16.55 L-7.91,-16.21 L-6.93,-15.84 L-6.01,-15.45 L-5.17,-15.04 L-4.39,-14.59 L-3.67,-14.11 L-2.98,-13.59 L-2.34,-13.03 L-1.74,-12.41 L-1.16,-11.74 L-0.60,-11.00 L-0.06,-10.21 L0.46,-9.34 L0.97,-8.41 L1.48,-7.40 L1.99,-6.32 L2.50,-5.17 Z" fill="#f7f7f3" stroke="#3f4a32" stroke-width="0.7" stroke-linejoin="round"/>
<path transform="translate(190.4,176.2) rotate(180)" d="M-12.2,-18.6 C-11.4,-17.6 -9.6,-17.4 -6.6,-16.4" fill="none" stroke="#b4b8ac" stroke-width="1.0" stroke-linecap="round"/>
<path transform="translate(190.4,176.2) rotate(225)" d="M2.70,-5.23 L2.45,-6.48 L2.20,-7.66 L1.92,-8.78 L1.62,-9.84 L1.28,-10.86 L0.91,-11.83 L0.50,-12.76 L0.04,-13.67 L-0.47,-14.54 L-1.05,-15.38 L-1.68,-16.20 L-2.39,-16.99 L-3.16,-17.76 L-4.00,-18.52 L-4.92,-19.26 L-5.91,-20.00 L-6.99,-20.73 L-8.14,-21.46 L-9.39,-22.20 A2.70,2.70 0 1 0 -11.41,-17.20 L-10.15,-16.88 L-8.99,-16.55 L-7.91,-16.21 L-6.93,-15.84 L-6.01,-15.45 L-5.17,-15.04 L-4.39,-14.59 L-3.67,-14.11 L-2.98,-13.59 L-2.34,-13.03 L-1.74,-12.41 L-1.16,-11.74 L-0.60,-11.00 L-0.06,-10.21 L0.46,-9.34 L0.97,-8.41 L1.48,-7.40 L1.99,-6.32 L2.50,-5.17 Z" fill="#f7f7f3" stroke="#3f4a32" stroke-width="0.7" stroke-linejoin="round"/>
<path transform="translate(190.4,176.2) rotate(225)" d="M-12.2,-18.6 C-11.4,-17.6 -9.6,-17.4 -6.6,-16.4" fill="none" stroke="#b4b8ac" stroke-width="1.0" stroke-linecap="round"/>
<path transform="translate(190.4,176.2) rotate(270)" d="M2.70,-5.23 L2.45,-6.48 L2.20,-7.66 L1.92,-8.78 L1.62,-9.84 L1.28,-10.86 L0.91,-11.83 L0.50,-12.76 L0.04,-13.67 L-0.47,-14.54 L-1.05,-15.38 L-1.68,-16.20 L-2.39,-16.99 L-3.16,-17.76 L-4.00,-18.52 L-4.92,-19.26 L-5.91,-20.00 L-6.99,-20.73 L-8.14,-21.46 L-9.39,-22.20 A2.70,2.70 0 1 0 -11.41,-17.20 L-10.15,-16.88 L-8.99,-16.55 L-7.91,-16.21 L-6.93,-15.84 L-6.01,-15.45 L-5.17,-15.04 L-4.39,-14.59 L-3.67,-14.11 L-2.98,-13.59 L-2.34,-13.03 L-1.74,-12.41 L-1.16,-11.74 L-0.60,-11.00 L-0.06,-10.21 L0.46,-9.34 L0.97,-8.41 L1.48,-7.40 L1.99,-6.32 L2.50,-5.17 Z" fill="#f7f7f3" stroke="#3f4a32" stroke-width="0.7" stroke-linejoin="round"/>
<path transform="translate(190.4,176.2) rotate(270)" d="M-12.2,-18.6 C-11.4,-17.6 -9.6,-17.4 -6.6,-16.4" fill="none" stroke="#b4b8ac" stroke-width="1.0" stroke-linecap="round"/>
<path transform="translate(190.4,176.2) rotate(315)" d="M2.70,-5.23 L2.45,-6.48 L2.20,-7.66 L1.92,-8.78 L1.62,-9.84 L1.28,-10.86 L0.91,-11.83 L0.50,-12.76 L0.04,-13.67 L-0.47,-14.54 L-1.05,-15.38 L-1.68,-16.20 L-2.39,-16.99 L-3.16,-17.76 L-4.00,-18.52 L-4.92,-19.26 L-5.91,-20.00 L-6.99,-20.73 L-8.14,-21.46 L-9.39,-22.20 A2.70,2.70 0 1 0 -11.41,-17.20 L-10.15,-16.88 L-8.99,-16.55 L-7.91,-16.21 L-6.93,-15.84 L-6.01,-15.45 L-5.17,-15.04 L-4.39,-14.59 L-3.67,-14.11 L-2.98,-13.59 L-2.34,-13.03 L-1.74,-12.41 L-1.16,-11.74 L-0.60,-11.00 L-0.06,-10.21 L0.46,-9.34 L0.97,-8.41 L1.48,-7.40 L1.99,-6.32 L2.50,-5.17 Z" fill="#f7f7f3" stroke="#3f4a32" stroke-width="0.7" stroke-linejoin="round"/>
<path transform="translate(190.4,176.2) rotate(315)" d="M-12.2,-18.6 C-11.4,-17.6 -9.6,-17.4 -6.6,-16.4" fill="none" stroke="#b4b8ac" stroke-width="1.0" stroke-linecap="round"/>
<circle cx="190.4" cy="176.2" r="6.4" fill="#d9e6a6" stroke="#6f8348" stroke-width="0.6"/>
<circle cx="190.4" cy="176.2" r="2.1" fill="#b9bdb0" stroke="#5f6a4a" stroke-width="0.5"/>
<rect x="265.3" y="158.6" width="34" height="33.9" rx="4.5" fill="url(#gold)" stroke="#5e4508" stroke-width="0.6"/>
<path d="M278.6,160.4 L287.6,169.6 L299.4,159 L291,150 Z" fill="#5e4508" opacity="0.35"/>
<path d="M290,150.5 L298,158 L287.2,166.1 L280.4,158.1 Z" fill="url(#stemG)" stroke="#5e4508" stroke-width="0.5"/>
<circle cx="298.8" cy="142.2" r="15.6" fill="#e4e4e0" stroke="#7a7a76" stroke-width="0.7"/>
<line x1="311.40" y1="142.20" x2="313.50" y2="142.20" stroke="#b4b4b0" stroke-width="0.5"/>
<line x1="311.08" y1="145.00" x2="313.13" y2="145.47" stroke="#b4b4b0" stroke-width="0.5"/>
<line x1="310.15" y1="147.67" x2="312.04" y2="148.58" stroke="#b4b4b0" stroke-width="0.5"/>
<line x1="308.65" y1="150.06" x2="310.29" y2="151.37" stroke="#b4b4b0" stroke-width="0.5"/>
<line x1="306.66" y1="152.05" x2="307.97" y2="153.69" stroke="#b4b4b0" stroke-width="0.5"/>
<line x1="304.27" y1="153.55" x2="305.18" y2="155.44" stroke="#b4b4b0" stroke-width="0.5"/>
<line x1="301.60" y1="154.48" x2="302.07" y2="156.53" stroke="#b4b4b0" stroke-width="0.5"/>
<line x1="298.80" y1="154.80" x2="298.80" y2="156.90" stroke="#b4b4b0" stroke-width="0.5"/>
<line x1="296.00" y1="154.48" x2="295.53" y2="156.53" stroke="#b4b4b0" stroke-width="0.5"/>
<line x1="293.33" y1="153.55" x2="292.42" y2="155.44" stroke="#b4b4b0" stroke-width="0.5"/>
<line x1="290.94" y1="152.05" x2="289.63" y2="153.69" stroke="#b4b4b0" stroke-width="0.5"/>
<line x1="288.95" y1="150.06" x2="287.31" y2="151.37" stroke="#b4b4b0" stroke-width="0.5"/>
<line x1="287.45" y1="147.67" x2="285.56" y2="148.58" stroke="#b4b4b0" stroke-width="0.5"/>
<line x1="286.52" y1="145.00" x2="284.47" y2="145.47" stroke="#b4b4b0" stroke-width="0.5"/>
<line x1="286.20" y1="142.20" x2="284.10" y2="142.20" stroke="#b4b4b0" stroke-width="0.5"/>
<line x1="286.52" y1="139.40" x2="284.47" y2="138.93" stroke="#b4b4b0" stroke-width="0.5"/>
<line x1="287.45" y1="136.73" x2="285.56" y2="135.82" stroke="#b4b4b0" stroke-width="0.5"/>
<line x1="288.95" y1="134.34" x2="287.31" y2="133.03" stroke="#b4b4b0" stroke-width="0.5"/>
<line x1="290.94" y1="132.35" x2="289.63" y2="130.71" stroke="#b4b4b0" stroke-width="0.5"/>
<line x1="293.33" y1="130.85" x2="292.42" y2="128.96" stroke="#b4b4b0" stroke-width="0.5"/>
<line x1="296.00" y1="129.92" x2="295.53" y2="127.87" stroke="#b4b4b0" stroke-width="0.5"/>
<line x1="298.80" y1="129.60" x2="298.80" y2="127.50" stroke="#b4b4b0" stroke-width="0.5"/>
<line x1="301.60" y1="129.92" x2="302.07" y2="127.87" stroke="#b4b4b0" stroke-width="0.5"/>
<line x1="304.27" y1="130.85" x2="305.18" y2="128.96" stroke="#b4b4b0" stroke-width="0.5"/>
<line x1="306.66" y1="132.35" x2="307.97" y2="130.71" stroke="#b4b4b0" stroke-width="0.5"/>
<line x1="308.65" y1="134.34" x2="310.29" y2="133.03" stroke="#b4b4b0" stroke-width="0.5"/>
<line x1="310.15" y1="136.73" x2="312.04" y2="135.82" stroke="#b4b4b0" stroke-width="0.5"/>
<line x1="311.08" y1="139.40" x2="313.13" y2="138.93" stroke="#b4b4b0" stroke-width="0.5"/>
<circle cx="298.8" cy="142.2" r="11.6" fill="#f0f0ec" stroke="#6e6e6a" stroke-width="0.6"/>
<line x1="292.29" y1="148.71" x2="291.02" y2="149.98" stroke="#8a8a86" stroke-width="0.35"/>
<line x1="291.19" y1="147.37" x2="289.70" y2="148.38" stroke="#8a8a86" stroke-width="0.35"/>
<line x1="290.36" y1="145.85" x2="288.70" y2="146.57" stroke="#8a8a86" stroke-width="0.35"/>
<line x1="289.82" y1="144.21" x2="288.06" y2="144.60" stroke="#8a8a86" stroke-width="0.35"/>
<line x1="289.60" y1="142.49" x2="287.81" y2="142.55" stroke="#8a8a86" stroke-width="0.35"/>
<line x1="289.71" y1="140.76" x2="287.94" y2="140.48" stroke="#8a8a86" stroke-width="0.35"/>
<line x1="290.14" y1="139.08" x2="288.45" y2="138.47" stroke="#8a8a86" stroke-width="0.35"/>
<line x1="290.88" y1="137.52" x2="289.33" y2="136.60" stroke="#8a8a86" stroke-width="0.35"/>
<line x1="291.90" y1="136.12" x2="290.55" y2="134.93" stroke="#8a8a86" stroke-width="0.35"/>
<line x1="293.16" y1="134.93" x2="292.06" y2="133.51" stroke="#8a8a86" stroke-width="0.35"/>
<line x1="294.62" y1="134.00" x2="293.81" y2="132.40" stroke="#8a8a86" stroke-width="0.35"/>
<line x1="296.23" y1="133.37" x2="295.73" y2="131.64" stroke="#8a8a86" stroke-width="0.35"/>
<line x1="297.93" y1="133.04" x2="297.76" y2="131.25" stroke="#8a8a86" stroke-width="0.35"/>
<line x1="299.67" y1="133.04" x2="299.84" y2="131.25" stroke="#8a8a86" stroke-width="0.35"/>
<line x1="301.37" y1="133.37" x2="301.87" y2="131.64" stroke="#8a8a86" stroke-width="0.35"/>
<line x1="302.98" y1="134.00" x2="303.79" y2="132.40" stroke="#8a8a86" stroke-width="0.35"/>
<line x1="304.44" y1="134.93" x2="305.54" y2="133.51" stroke="#8a8a86" stroke-width="0.35"/>
<line x1="305.70" y1="136.12" x2="307.05" y2="134.93" stroke="#8a8a86" stroke-width="0.35"/>
<line x1="306.72" y1="137.52" x2="308.27" y2="136.60" stroke="#8a8a86" stroke-width="0.35"/>
<line x1="307.46" y1="139.08" x2="309.15" y2="138.47" stroke="#8a8a86" stroke-width="0.35"/>
<line x1="307.89" y1="140.76" x2="309.66" y2="140.48" stroke="#8a8a86" stroke-width="0.35"/>
<line x1="308.00" y1="142.49" x2="309.79" y2="142.55" stroke="#8a8a86" stroke-width="0.35"/>
<line x1="307.78" y1="144.21" x2="309.54" y2="144.60" stroke="#8a8a86" stroke-width="0.35"/>
<line x1="307.24" y1="145.85" x2="308.90" y2="146.57" stroke="#8a8a86" stroke-width="0.35"/>
<line x1="306.41" y1="147.37" x2="307.90" y2="148.38" stroke="#8a8a86" stroke-width="0.35"/>
<line x1="305.31" y1="148.71" x2="306.58" y2="149.98" stroke="#8a8a86" stroke-width="0.35"/>
<circle cx="298.8" cy="142.2" r="8.8" fill="none" stroke="#b6b6b2" stroke-width="0.4"/>
<path d="M307.21,136.09 A10.4,10.4 0 0 1 306.77,148.88" fill="none" stroke="#dc140c" stroke-width="2.4"/>
<line x1="300.9" y1="139.7" x2="293.4" y2="148.4" stroke="#555" stroke-width="0.9"/>
<circle cx="300.4" cy="140.3" r="1.0" fill="#666"/>
<line x1="380.2" y1="115" x2="399.4" y2="142" stroke="#5a5232" stroke-width="3.7"/>
<line x1="380.2" y1="115" x2="399.4" y2="142" stroke="#e9dfb4" stroke-width="2.5"/>
<line x1="379.9" y1="115" x2="399.09999999999997" y2="142" stroke="#f6f0d2" stroke-width="0.9"/>
<line x1="432.6" y1="115" x2="414.8" y2="142" stroke="#5a5232" stroke-width="3.7"/>
<line x1="432.6" y1="115" x2="414.8" y2="142" stroke="#e9dfb4" stroke-width="2.5"/>
<line x1="432.3" y1="115" x2="414.5" y2="142" stroke="#f6f0d2" stroke-width="0.9"/>
<line x1="407.4" y1="105" x2="407.4" y2="142" stroke="#5a5232" stroke-width="3.7"/>
<line x1="407.4" y1="105" x2="407.4" y2="142" stroke="#e9dfb4" stroke-width="2.5"/>
<line x1="407.09999999999997" y1="105" x2="407.09999999999997" y2="142" stroke="#f6f0d2" stroke-width="0.9"/>
<path d="M378.6,131.4 A36,36 0 0 1 436.4,131.4" fill="none" stroke="#000" stroke-width="2.7"/>
<polygon points="370,142.8 375.3,125.5 379.4,131.2 386,133.5" fill="#000"/>
<polygon points="445.4,142.8 440.5,125.5 436.6,131.2 429.8,133.5" fill="#000"/>
<circle cx="378.4" cy="110.6" r="5.8" fill="url(#ballO)" stroke="#b04a00" stroke-width="0.5"/>
<circle cx="435.7" cy="110.3" r="5.8" fill="url(#ballG)" stroke="#1a6010" stroke-width="0.5"/>
<circle cx="407.3" cy="101.2" r="5.8" fill="url(#ballR)" stroke="#900008" stroke-width="0.5"/>
<path d="M394.1,152.8 A13.35,13.35 0 0 1 420.8,152.8 Z" fill="url(#domeG)" stroke="#58430e" stroke-width="0.7"/>
<path d="M403.8,152.8 A3.5,4.2 0 0 1 410.8,152.8 Z" fill="#b89a44" stroke="#58430e" stroke-width="0.7"/>
<rect x="374.3" y="152" width="66.3" height="101.8" rx="8.5" fill="url(#vgold)" stroke="#5e4508" stroke-width="0.7"/>
<rect x="378.2" y="155.6" width="58" height="94.5" rx="5" fill="url(#vgrey)" stroke="#3a3a38" stroke-width="0.6"/>
<g clip-path="url(#vIn)">
<path d="M393,180.4 C388,180 382.4,181 382.4,189 L382.4,221 C382.4,229 386,232.6 393,232.6" fill="none" stroke="#083a7e" stroke-width="6.4"/>
<path d="M393,180.4 C388,180 382.4,181 382.4,189 L382.4,221 C382.4,229 386,232.6 393,232.6" fill="none" stroke="#0b50a8" stroke-width="5.2"/>
<path d="M376,229.4 C381,229.2 384,230.5 388,232.2" fill="none" stroke="#0b50a8" stroke-width="5.6"/>
<path d="M376,176.8 C383,176.4 387.2,178.4 387.2,184.5 C387.2,190 385.8,192.5 386,197 C386.3,203.5 388.8,207.2 394,207.2" fill="none" stroke="#7e0a52" stroke-width="6.0"/>
<path d="M376,176.8 C383,176.4 387.2,178.4 387.2,184.5 C387.2,190 385.8,192.5 386,197 C386.3,203.5 388.8,207.2 394,207.2" fill="none" stroke="#d2108c" stroke-width="4.8"/>
<path d="M376,175.6 C383,175.2 386.6,177.4 386.8,182" fill="none" stroke="#ee58b4" stroke-width="1.2" opacity="0.7"/>
</g>
<line x1="420" y1="203.2" x2="437" y2="203.2" stroke="#3a3a38" stroke-width="0.6" opacity="0.7"/>
<rect x="421.5" y="188.4" width="14.7" height="11.6" fill="#4a4a48"/>
<rect x="421.5" y="189.8" width="14.7" height="9.4" fill="#dfe9ae"/>
<rect x="421.5" y="214.2" width="14.7" height="11.8" fill="#4a4a48"/>
<rect x="421.5" y="215.5" width="14.7" height="9.2" fill="#dfe9ae"/>
<rect x="395.2" y="165.4" width="24.6" height="82.6" fill="#bcc4c6" stroke="#66747a" stroke-width="1"/>
<rect x="396.6" y="168.3" width="21.8" height="3.2" rx="0.6" fill="#fbfbf8" stroke="#8a9090" stroke-width="0.4"/>
<rect x="396.2" y="231.8" width="22.6" height="15.4" fill="#f4f4ee"/>
<rect x="396.2" y="177.4" width="22.6" height="21" fill="#e1ebb2"/>
<rect x="396.2" y="204.4" width="22.6" height="21" fill="#e1ebb2"/>
<rect x="405.3" y="156.5" width="4.6" height="90" fill="url(#rod)" stroke="#6e520c" stroke-width="0.4"/>
<rect x="397" y="171.6" width="21" height="5.8" rx="0.8" fill="url(#vgold)" stroke="#5e4508" stroke-width="0.4"/>
<line x1="397.4" y1="173.69" x2="417.6" y2="173.69" stroke="#5e4508" stroke-width="0.45" opacity="0.8"/>
<line x1="397.4" y1="175.54" x2="417.6" y2="175.54" stroke="#5e4508" stroke-width="0.45" opacity="0.8"/>
<rect x="397" y="198.2" width="21" height="6.4" rx="0.8" fill="url(#vgold)" stroke="#5e4508" stroke-width="0.4"/>
<line x1="397.4" y1="200.50" x2="417.6" y2="200.50" stroke="#5e4508" stroke-width="0.45" opacity="0.8"/>
<line x1="397.4" y1="202.55" x2="417.6" y2="202.55" stroke="#5e4508" stroke-width="0.45" opacity="0.8"/>
<rect x="397" y="225.2" width="21" height="6.6" rx="0.8" fill="url(#vgold)" stroke="#5e4508" stroke-width="0.4"/>
<line x1="397.4" y1="227.58" x2="417.6" y2="227.58" stroke="#5e4508" stroke-width="0.45" opacity="0.8"/>
<line x1="397.4" y1="229.69" x2="417.6" y2="229.69" stroke="#5e4508" stroke-width="0.45" opacity="0.8"/>
<rect x="398.6" y="234.20" width="17.6" height="1.5" rx="0.7" fill="#c9a642" stroke="#7a5c10" stroke-width="0.3"/>
<rect x="398.6" y="236.90" width="17.6" height="1.5" rx="0.7" fill="#c9a642" stroke="#7a5c10" stroke-width="0.3"/>
<rect x="398.6" y="239.60" width="17.6" height="1.5" rx="0.7" fill="#c9a642" stroke="#7a5c10" stroke-width="0.3"/>
<rect x="398.6" y="242.30" width="17.6" height="1.5" rx="0.7" fill="#c9a642" stroke="#7a5c10" stroke-width="0.3"/>
<rect x="398.6" y="245.00" width="17.6" height="1.5" rx="0.7" fill="#c9a642" stroke="#7a5c10" stroke-width="0.3"/>
<rect x="405.3" y="231.8" width="4.6" height="14.8" fill="url(#rod)" stroke="#6e520c" stroke-width="0.3"/>
<rect x="392" y="174.5" width="3" height="13.2" rx="1.4" fill="#e6e8e4" stroke="#5a5e5e" stroke-width="0.5"/>
<rect x="392" y="200.9" width="3" height="13.2" rx="1.4" fill="#e6e8e4" stroke="#5a5e5e" stroke-width="0.5"/>
<rect x="392" y="228.1" width="3" height="12.5" rx="1.4" fill="#e6e8e4" stroke="#5a5e5e" stroke-width="0.5"/>
<rect x="419.5" y="187.5" width="3" height="13.8" rx="1.4" fill="#e6e8e4" stroke="#5a5e5e" stroke-width="0.5"/>
<rect x="419.5" y="213.6" width="3" height="13.2" rx="1.4" fill="#e6e8e4" stroke="#5a5e5e" stroke-width="0.5"/>
<line x1="418.80" y1="194.40" x2="402.12" y2="184.71" stroke="#0b4da4" stroke-width="1.2"/>
<polygon points="397.80,182.20 404.37,183.24 402.12,184.71 401.96,187.39" fill="#0b4da4"/>
<line x1="397.20" y1="207.80" x2="413.93" y2="218.00" stroke="#c8107e" stroke-width="1.2"/>
<polygon points="418.20,220.60 411.66,219.42 413.93,218.00 414.16,215.32" fill="#c8107e"/>
<rect x="586.4" y="88" width="11.4" height="140" fill="url(#rod)" stroke="#6e520c" stroke-width="0.5"/>
<path d="M553.1,121.1 H631.1 V292 Q631.1,299.6 623.5,299.6 H560.7 Q553.1,299.6 553.1,292 Z" fill="#8d9ba0" stroke="#49555a" stroke-width="0.9"/>
<g clip-path="url(#cIn)">
<rect x="555" y="123" width="75" height="104" fill="url(#cgrey)"/>
<rect x="555" y="246" width="75" height="52" fill="url(#cfl)"/>
<rect x="586.4" y="123" width="11.4" height="104" fill="url(#rod)" stroke="#6e520c" stroke-width="0.5"/>
<rect x="555" y="226.2" width="75" height="20.2" fill="url(#pist)"/>
<line x1="555" y1="231.4" x2="630" y2="231.4" stroke="#6e520c" stroke-width="0.6"/>
<line x1="555" y1="243.6" x2="630" y2="243.6" stroke="#6e520c" stroke-width="0.6"/>
<line x1="555" y1="226.4" x2="630" y2="226.4" stroke="#5e4508" stroke-width="0.6"/>
<line x1="555" y1="246.3" x2="630" y2="246.3" stroke="#5e4508" stroke-width="0.6"/>
</g>
<path d="M555.3,123.4 H629 V292 Q629,297.4 623.6,297.4 H560.7 Q555.3,297.4 555.3,292 Z" fill="none" stroke="#525e60" stroke-width="0.6"/>
<rect x="557.8" y="129" width="2.2" height="10.2" rx="1.1" fill="#9db35e" stroke="#5e6e36" stroke-width="0.4"/>
<ellipse cx="559.3" cy="280.2" rx="1.3" ry="4.8" fill="#d0dfa0" stroke="#5e6e36" stroke-width="0.5"/>
<polygon points="609.40,210.00 609.90,153.40 607.10,153.40 607.60,210.00" fill="url(#fa1)"/>
<polygon points="608.50,141.40 614.10,156.80 608.50,153.40 602.90,156.80" fill="#000"/>
<rect x="567.4" y="83" width="49.8" height="5.3" rx="0.8" fill="url(#pist)" stroke="#5e4508" stroke-width="0.5"/>
<polygon points="570,33.2 615.4,33.2 637,80.6 626.2,82.8 557.7,82.8 546.9,80.6" fill="#7d8c92" stroke="#3c474b" stroke-width="0.7" stroke-linejoin="round"/>
<polygon points="570,33.2 571.8,34.2 557.7,82.8 546.9,80.6" fill="url(#wL)" stroke="#3c474b" stroke-width="0.45" stroke-linejoin="round"/>
<polygon points="615.4,33.2 611.2,34.2 626.2,82.8 637,80.6" fill="url(#wR)" stroke="#3c474b" stroke-width="0.45" stroke-linejoin="round"/>
<polygon points="571.8,34.2 611.2,34.2 626.2,82.8 557.7,82.8" fill="url(#wF)" stroke="#3c474b" stroke-width="0.45" stroke-linejoin="round"/>
<line x1="130.10" y1="194.00" x2="148.80" y2="194.00" stroke="#0b9888" stroke-width="2.5"/>
<polygon points="161.40,194.00 145.70,199.80 148.80,194.00 145.70,188.20" fill="#0b9888"/>
<line x1="35.00" y1="233.80" x2="35.00" y2="215.00" stroke="#0b9888" stroke-width="2.5"/>
<polygon points="35.00,202.40 40.80,218.10 35.00,215.00 29.20,218.10" fill="#0b9888"/>
<line x1="225.20" y1="193.50" x2="244.30" y2="193.50" stroke="#c4107e" stroke-width="2.5"/>
<polygon points="256.90,193.50 241.20,199.30 244.30,193.50 241.20,187.70" fill="#c4107e"/>
<line x1="318.40" y1="193.70" x2="349.40" y2="193.70" stroke="#c4107e" stroke-width="2.5"/>
<polygon points="362.00,193.70 346.30,199.50 349.40,193.70 346.30,187.90" fill="#c4107e"/>
<line x1="368.80" y1="245.70" x2="330.60" y2="245.70" stroke="#0b4b9e" stroke-width="2.5"/>
<polygon points="318.00,245.70 333.70,239.90 330.60,245.70 333.70,251.50" fill="#0b4b9e"/>
<line x1="253.00" y1="299.60" x2="185.10" y2="299.60" stroke="#0b4b9e" stroke-width="2.5"/>
<polygon points="172.50,299.60 188.20,293.80 185.10,299.60 188.20,305.40" fill="#0b4b9e"/>
<line x1="346.00" y1="245.60" x2="368.49" y2="245.60" stroke="#0b4b9e" stroke-width="2.5"/>
<polygon points="368.50,245.60 368.49,245.61 368.49,245.60 368.49,245.59" fill="#0b4b9e"/>
<polygon points="480.00,118.70 531.20,119.40 531.20,116.20 480.00,116.90" fill="url(#fa2)"/>
<polygon points="543.00,117.80 527.20,123.80 531.20,117.80 527.20,111.80" fill="#000"/>
<polygon points="543.00,150.00 490.60,149.30 490.60,152.50 543.00,151.80" fill="url(#fa3)"/>
<polygon points="478.80,150.90 494.60,144.90 490.60,150.90 494.60,156.90" fill="#000"/>
<polygon points="480.00,266.50 531.40,267.20 531.40,264.00 480.00,264.70" fill="url(#fa4)"/>
<polygon points="543.20,265.60 527.40,271.60 531.40,265.60 527.40,259.60" fill="#000"/>
<polygon points="543.00,297.40 490.60,296.70 490.60,299.90 543.00,299.20" fill="url(#fa5)"/>
<polygon points="478.80,298.30 494.60,292.30 490.60,298.30 494.60,304.30" fill="#000"/>
<rect x="303.6" y="57" width="211.6" height="22" rx="2.5" fill="#ccc" opacity="0.6"/>
<rect x="303.4" y="56.4" width="211.2" height="21.6" rx="2.5" fill="#fff" stroke="#8a8a8a" stroke-width="0.8"/>
<circle cx="314.5" cy="67.2" r="6.4" fill="url(#ballR)"/>
<circle cx="375.6" cy="67.2" r="6.4" fill="url(#ballG)"/>
<circle cx="448.9" cy="67.2" r="6.4" fill="url(#ballO)"/>
<rect x="190.2" y="336.3" width="338.2" height="21.6" rx="2.5" fill="#ccc" opacity="0.6"/>
<rect x="189.6" y="335.6" width="338.2" height="21.5" rx="2.5" fill="#fff" stroke="#8a8a8a" stroke-width="0.8"/>
<line x1="193.80" y1="346.60" x2="202.60" y2="346.60" stroke="#0b9888" stroke-width="1.7"/>
<polygon points="212.00,346.60 200.80,350.70 202.60,346.60 200.80,342.50" fill="#0b9888"/>
<line x1="327.60" y1="346.60" x2="336.40" y2="346.60" stroke="#c4107e" stroke-width="1.7"/>
<polygon points="345.80,346.60 334.60,350.70 336.40,346.60 334.60,342.50" fill="#c4107e"/>
<line x1="465.80" y1="346.60" x2="457.00" y2="346.60" stroke="#0b4b9e" stroke-width="1.7"/>
<polygon points="447.60,346.60 458.80,342.50 457.00,346.60 458.80,350.70" fill="#0b4b9e"/>
<g filter="url(#idf)">
<text x="177.6" y="69.3" font-size="13.4" textLength="28.20" lengthAdjust="spacingAndGlyphs">Motor</text>
<text x="95.2" y="158.6" font-size="13.4" textLength="23.20" lengthAdjust="spacingAndGlyphs">Filter</text>
<text x="262.2" y="105.8" font-size="13.4" textLength="42.10" lengthAdjust="spacingAndGlyphs">Pressure</text>
<text x="262.2" y="120.8" font-size="13.4" textLength="42.80" lengthAdjust="spacingAndGlyphs">regulator</text>
<text x="177.8" y="218.5" font-size="13.4" textLength="26.80" lengthAdjust="spacingAndGlyphs">Pump</text>
<text x="90.9" y="241" font-size="13.4" textLength="71.70" lengthAdjust="spacingAndGlyphs">Breathing filter</text>
<text x="135.2" y="330.3" font-size="13.4" textLength="24.40" lengthAdjust="spacingAndGlyphs">Level</text>
<text x="51.9" y="391.3" font-size="13.4" textLength="45.10" lengthAdjust="spacingAndGlyphs">Reservoir</text>
<text x="381.4" y="269.6" font-size="13.4" textLength="51.10" lengthAdjust="spacingAndGlyphs">Directional</text>
<text x="375.8" y="285" font-size="13.4" textLength="61.20" lengthAdjust="spacingAndGlyphs">control valve</text>
<text x="559.6" y="314.3" font-size="13.4" textLength="66.70" lengthAdjust="spacingAndGlyphs">Double acting</text>
<text x="573.3" y="329.3" font-size="13.4" textLength="38.70" lengthAdjust="spacingAndGlyphs">cylinder</text>
<text x="562.8" y="27.6" font-size="13.4" textLength="58.50" lengthAdjust="spacingAndGlyphs">Lift / Weight</text>
<text x="323.3" y="71.7" font-size="13.5" textLength="38.00" lengthAdjust="spacingAndGlyphs">1.- Hold</text>
<text x="383.8" y="71.7" font-size="13.5" textLength="50.70" lengthAdjust="spacingAndGlyphs">2.- Extend</text>
<text x="457.6" y="71.7" font-size="13.5" textLength="51.70" lengthAdjust="spacingAndGlyphs">3.- Retract</text>
<text x="213.8" y="350.9" font-size="13.7" textLength="104.20" lengthAdjust="spacingAndGlyphs">Hydraulic fluid supply</text>
<text x="347.6" y="350.9" font-size="13.7" textLength="90.40" lengthAdjust="spacingAndGlyphs">Hydraulic pressure</text>
<text x="467.6" y="350.9" font-size="13.7" textLength="55.70" lengthAdjust="spacingAndGlyphs">Return fluid</text>
<text x="404.4" y="93.2" font-size="13.4" textLength="4.80" lengthAdjust="spacingAndGlyphs">1</text>
<text x="371" y="102.6" font-size="13.4" textLength="6.40" lengthAdjust="spacingAndGlyphs">3</text>
<text x="438.8" y="102.6" font-size="13.4" textLength="6.60" lengthAdjust="spacingAndGlyphs">2</text>
</g>
</svg>
</body></html>
